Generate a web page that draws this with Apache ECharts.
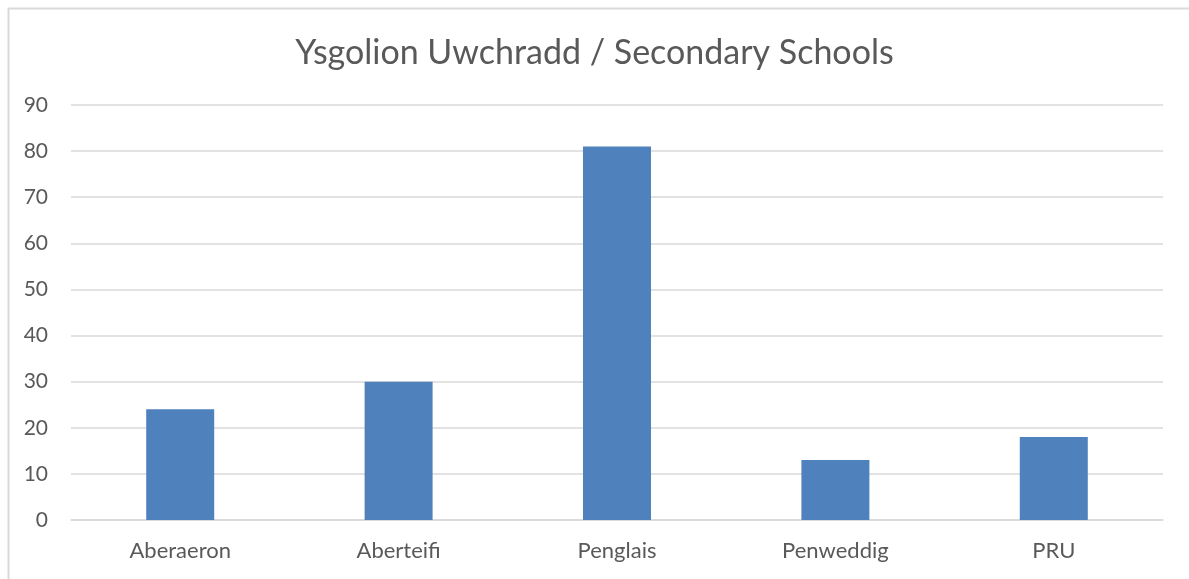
<!DOCTYPE html>
<html><head><meta charset="utf-8">
<script src="https://cdn.jsdelivr.net/npm/echarts@6/dist/echarts.min.js"></script>
<style>html,body{margin:0;padding:0;background:#fff}#c{width:1189px;height:579px}</style>
</head><body><div id="c"></div>
<script>
const title = "Ysgolion Uwchradd / Secondary Schools";
const categories = ["Aberaeron", "Aberteifi", "Penglais", "Penweddig", "PRU"];
const values = [24, 30, 81, 13, 18];
const chart = echarts.init(document.getElementById('c'), null, {renderer: 'canvas'});
const font = 'Lato, "Open Sans", "Liberation Sans", sans-serif';
chart.setOption({
  animation: false,
  backgroundColor: '#fff',
  graphic: [{type: 'rect', left: 6, top: 6, shape: {width: 1200, height: 600}, style: {fill: 'none', stroke: '#D9D9D9', lineWidth: 2}, silent: true}],
  title: {text: title, left: 'center', top: 31, textStyle: {fontFamily: font, fontSize: 34, fontWeight: 'normal', color: '#595959'}},
  grid: {left: 71, right: 26, top: 105, bottom: 59, containLabel: false},
  xAxis: {type: 'category', data: categories,
    axisLine: {show: true, lineStyle: {color: '#D9D9D9', width: 1.5}},
    axisTick: {show: false},
    axisLabel: {fontFamily: font, fontSize: 22, color: '#595959', margin: 20}},
  yAxis: {type: 'value', min: 0, max: 90, interval: 10,
    axisLine: {show: false}, axisTick: {show: false},
    splitLine: {lineStyle: {color: '#D9D9D9', width: 1.5}},
    axisLabel: {fontFamily: font, fontSize: 21, color: '#595959', margin: 23}},
  series: [{type: 'bar', data: values, barWidth: 68, itemStyle: {color: '#4F81BD'}}]
});
</script></body></html>
